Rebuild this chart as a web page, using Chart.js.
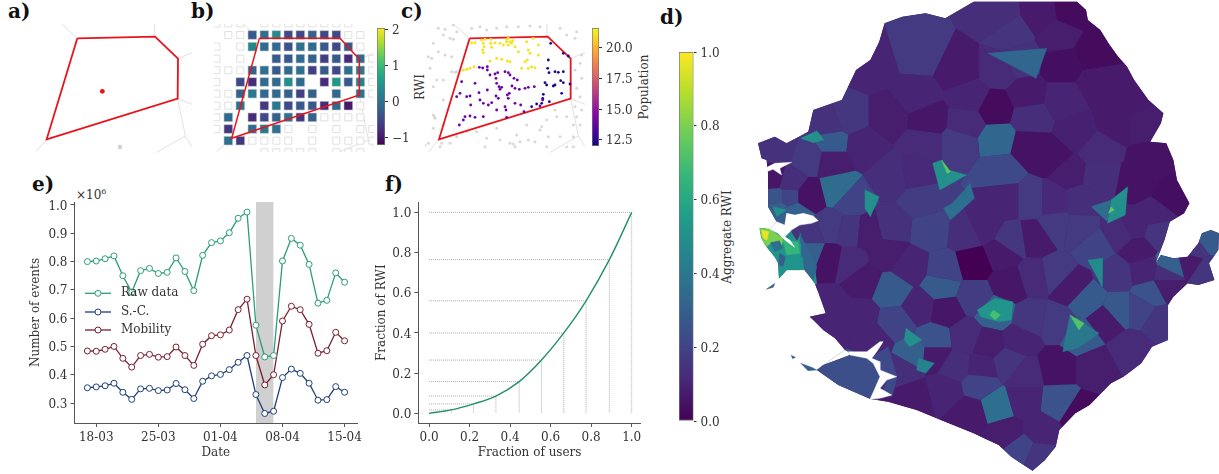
<!DOCTYPE html>
<html>
<head>
<meta charset="utf-8">
<script src="https://cdn.jsdelivr.net/npm/chart.js@4"></script>
<style>
  html, body { margin: 0; background: #fff; width: 1219px; height: 474px; overflow: hidden; }
  body { position: relative; font-family: "DejaVu Serif", serif; color: #333; }
  canvas { position: absolute; }
  .panel { position: absolute; font-weight: bold; font-size: 20px; color: #111; line-height: 1; }
  .rot { position: absolute; font-size: 12px; white-space: nowrap; transform: translate(-50%, -50%) rotate(-90deg); }
</style>
</head>
<body>
<div class="panel" style="left:8px;top:1px">a)</div>
<div class="panel" style="left:191px;top:1px">b)</div>
<div class="panel" style="left:401px;top:1px">c)</div>
<div class="panel" style="left:660px;top:7px">d)</div>
<div class="panel" style="left:32px;top:174px">e)</div>
<div class="panel" style="left:385px;top:174px">f)</div>
<div class="rot" style="left:420px;top:87px">RWI</div>
<div class="rot" style="left:644px;top:87px">Population</div>
<div class="rot" style="left:727px;top:237px">Aggregate RWI</div>
<div style="position:absolute;left:76px;top:187px;font-size:12px">×10<sup style="font-size:8px">6</sup></div>

<canvas id="panelA" width="170" height="136" style="left:30px;top:20px"></canvas>
<canvas id="panelB" width="160" height="128" style="left:214px;top:24px"></canvas>
<canvas id="barB" width="50" height="133" style="left:377px;top:20px"></canvas>
<canvas id="panelC" width="160" height="129" style="left:425px;top:24px"></canvas>
<canvas id="barC" width="50" height="134" style="left:592px;top:20px"></canvas>
<canvas id="panelD" width="559" height="474" style="left:660px;top:0"></canvas>
<canvas id="barD" width="45" height="385" style="left:679px;top:44px"></canvas>
<canvas id="panelE" width="365" height="285" style="left:0;top:175px"></canvas>
<canvas id="panelF" width="281" height="285" style="left:360px;top:175px"></canvas>

<script>
// ---- e) time series
const dayNumbers = [-1,0,1,2,3,4,5,6,7,8,9,10,11,12,13,14,15,16,17,18,19,20,21,22,23,24,25,26,27,28];
const rawData = [.80,.802,.81,.82,.75,.692,.768,.776,.758,.762,.813,.765,.697,.822,.867,.873,.902,.953,.975,.575,.463,.468,.802,.882,.858,.79,.653,.663,.76,.727];
const mobility = [.484,.483,.49,.5,.458,.427,.468,.472,.462,.464,.498,.468,.433,.508,.538,.541,.558,.63,.667,.468,.364,.40,.59,.642,.63,.578,.476,.485,.55,.52];
const sc = [.354,.357,.361,.37,.338,.313,.35,.352,.344,.346,.369,.347,.316,.377,.396,.401,.418,.444,.468,.33,.263,.271,.39,.42,.405,.37,.31,.312,.358,.338];
const dateTicks = [0,7,14,21,28];
const dateLabels = ['18-03','25-03','01-04','08-04','15-04'];
const eventTicks = [.3,.4,.5,.6,.7,.8,.9,1.0];
const shutdownDays = [18,20];

// ---- f) Lorenz curve
const usersFraction = [0,.11,.22,.33,.445,.555,.665,.775,.89,1];
const rwiFraction = [0,.017,.047,.086,.158,.265,.4,.56,.765,1];
const fractionTicks = [0,.2,.4,.6,.8,1];

// ---- a), b), c) one cell at three zoom levels
const cellA = [[232,115],[465,110],[534,176],[533,296],[140,418],[232,115]];
const wallsA = [[[232,115],[185,72]],[[465,110],[463,72]],[[534,176],[577,158]],[[533,296],[576,313]],[[533,296],[556,408],[575,440]],[[556,408],[470,457]],[[140,418],[108,455]]];
const towerA = [[307,274]];
const otherTowerA = [[360,441]];

const cellB = [[778,115],[1020,115],[1078,178],[1078,285],[695,415],[778,115]];
const wallsB = [[[778,115],[730,72]],[[1078,178],[1118,160]],[[1078,285],[1105,420],[1120,440]],[[1105,420],[1020,455]],[[695,415],[650,455]]];
const gridX = [649,685,721,757,793,829,865,901,937,973,1009,1045,1081,1117];
const gridY = [70,105,140,176,211,246,281,317,352,387,422,457];
// col, row, rwi
const tileRwi = [
  [3,1,-.3],[4,1,0],[5,1,.35],[6,1,-.5],[7,1,-.5],[8,1,-.2],[9,1,-.5],[10,1,-.5],
  [3,2,.3],[4,2,-.1],[5,2,-.1],[6,2,-.4],[7,2,0],[8,2,-.1],[9,2,-.3],[10,2,-.5],[11,2,-.3],
  [5,3,-.3],[6,3,-.3],[7,3,-.1],[8,3,-.2],[9,3,-.6],[10,3,-.3],[11,3,-.8],[12,3,-.1],
  [3,4,-.2],[4,4,0],[5,4,-.3],[6,4,-.1],[7,4,0],[8,4,-.6],[9,4,-.3],[10,4,-.5],[11,4,0],[12,4,.1],
  [2,5,-.5],[3,5,-.8],[4,5,-.1],[5,5,-.1],[6,5,.4],[7,5,-.1],[9,5,-.8],[10,5,.5],[11,5,-.3],[12,5,.2],
  [2,6,-.2],[3,6,.1],[4,6,-.1],[5,6,-.1],[6,6,-.2],[7,6,-.6],[8,6,-.2],[10,6,-.1],[12,6,0],
  [2,7,0],[4,7,-.7],[5,7,.1],[6,7,-.5],[7,7,-.3],[8,7,-.3],[9,7,-.8],[10,7,-.1],[11,7,-1],
  [1,8,-.1],[3,8,-.8],[4,8,-.5],[5,8,-.2],[6,8,0],[7,8,-.7],[8,8,-.2],
  [1,9,-.7],[3,9,-.1],[4,9,.1],[5,9,0],
  [1,10,0],[2,10,-.7]
];
const emptyTiles = [
  [0,0],[1,0],[2,0],[4,0],[5,0],[6,0],[7,0],[8,0],[9,0],[10,0],[11,0],
  [1,1],[2,1],[11,1],[12,1],[0,2],[2,2],[12,2],[0,3],[2,3],[13,3],[0,4],[1,4],[2,4],[13,4],
  [0,5],[13,5],[0,6],[1,6],[13,6],[0,7],[1,7],[12,7],[0,8],[9,8],[10,8],[11,8],[12,8],
  [0,9],[6,9],[8,9],[10,9],[12,9],[13,9],[3,10],[4,10],[5,10],[6,10],[8,10],[10,10],[11,10],[12,10],[13,10],
  [4,11],[5,11],[6,11],[7,11],[8,11],[10,11],[11,11],[12,11]
];
const barBTicks = [-1,0,1,2];
const barBLabels = ['−1','0','1','2'];

const cellC = [[209,115],[443,110],[512,176],[512,296],[117,418],[209,115]];
const wallsC = [[[209,115],[160,72]],[[443,110],[441,72]],[[512,176],[555,158]],[[512,296],[555,313]],[[512,296],[535,408],[555,440]],[[535,408],[450,457]],[[117,418],[85,457]]];
const popHigh = [[215,128],[225,128],[245,120],[250,130],[255,118],[248,150],[252,140],[272,118],[272,130],[275,142],[285,128],[300,130],[310,135],[320,118],[325,115],[330,125],[338,122],[325,135],[345,140],[355,155],[380,125],[400,115],[385,150],[390,160],[415,165],[382,180],[375,185],[385,205],[395,200],[405,203],[365,205],[330,185],[322,183],[305,178],[290,175],[270,183],[190,210],[200,208],[210,205],[222,200],[250,158],[320,125],[335,130],[415,135]];
const popMid = [[238,202],[248,204],[262,200],[262,210],[270,225],[285,222],[293,218],[315,215],[325,218],[330,225],[342,235],[352,240],[185,245],[225,250],[262,270],[288,235],[290,250],[297,260],[300,268],[305,262],[336,258],[345,265],[358,268],[375,265],[385,262],[403,260],[180,280],[170,290],[200,290],[210,288],[237,278],[288,288],[295,295],[322,285],[328,280],[325,295],[240,300],[250,310],[265,315],[275,308],[290,330],[315,320],[318,330],[345,310],[362,315],[212,315],[225,352],[250,350],[195,350],[190,360],[178,375],[210,348],[320,352],[372,335],[420,318],[428,300]];
const popLow = [[452,130],[490,160],[505,168],[445,180],[443,205],[447,218],[465,215],[490,215],[475,217],[482,242],[490,248],[510,252],[435,248],[440,255],[460,258],[465,255],[485,280],[430,283],[428,295],[425,310],[448,305],[410,312],[395,320]];
const popOutside = [[115,85],[135,88],[130,105],[160,75],[170,95],[150,115],[160,118],[100,130],[85,170],[95,175],[115,155],[135,165],[155,170],[155,215],[165,217],[170,215],[130,240],[110,240],[100,260],[90,205],[130,300],[100,345],[103,350],[105,355],[130,375],[100,385],[85,430],[75,435],[125,430],[215,85],[240,80],[260,90],[290,85],[320,80],[355,80],[390,78],[420,80],[480,85],[500,105],[530,95],[525,115],[545,165],[540,190],[525,210],[545,235],[530,265],[540,290],[525,320],[545,330],[520,375],[540,375],[530,350],[500,350],[470,350],[440,360],[420,390],[380,375],[350,405],[330,430],[340,432],[345,440],[360,425],[300,420],[290,385],[260,415],[255,440],[230,395],[200,395],[170,410],[150,430],[120,440],[445,410],[480,410],[520,410],[440,440],[500,440],[520,440],[405,425],[385,420],[425,380],[465,330]];
const barCTicks = [12.5,15,17.5,20];

// ---- d) country map
const countryOutline = [[880,5],[1170,5],[1195,30],[1200,60],[1235,90],[1258,130],[1285,170],[1310,200],[1330,240],[1370,300],[1412,340],[1405,370],[1375,425],[1420,430],[1440,480],[1450,540],[1485,610],[1470,640],[1430,665],[1415,720],[1390,790],[1405,765],[1440,775],[1480,770],[1510,730],[1520,700],[1545,690],[1568,700],[1566,750],[1540,790],[1555,840],[1510,855],[1480,850],[1440,890],[1425,915],[1425,1020],[1380,1040],[1350,1090],[1300,1130],[1265,1150],[1205,1215],[1165,1240],[1120,1290],[1110,1340],[1095,1360],[1080,1380],[1045,1412],[1020,1395],[985,1370],[950,1335],[880,1300],[800,1265],[720,1230],[640,1205],[590,1197],[500,1155],[440,1110],[458,1095],[533,1065],[528,1055],[519,1050],[491,1015],[458,990],[430,960],[420,950],[465,940],[445,880],[434,850],[406,810],[355,810],[334,835],[332,790],[322,770],[299,740],[285,715],[280,685],[308,688],[327,665],[303,620],[303,560],[303,520],[299,480],[285,475],[275,430],[322,410],[355,430],[416,395],[430,330],[510,300],[550,210],[590,180],[615,125],[630,70],[680,50],[745,40],[800,55],[880,5]];
const siteX = [730,950,1070,1150,1118,985,1010,950,840,1130,1215,590,720,640,1030,940,870,1130,1230,1330,1280,1170,1040,860,750,945,1035,1100,1360,530,470,480,570,740,840,955,1230,1380,1150,480,500,650,720,735,965,1045,1100,1180,1230,1340,1430,1390,1330,415,535,480,530,585,650,760,860,905,985,1055,1110,1175,1220,1290,1340,1400,475,530,570,640,700,650,790,800,880,960,980,1050,1110,1155,1200,1280,1360,1420,1380,1420,1285,1350,1400,1250,1180,1110,1040,940,880,800,730,660,560,480,460,600,770,770,710,680,860,920,1010,980,900,830,1115,1220,1320,1120,945,870,800,710,1170,1020,970,1070,1010,1060,550,895,1020,420,330,320,360,325,360,330,380,420,420,300,325,315,350,375,350,390,1540,1490,1430,1530,1500];
const siteY = [160,50,45,35,105,100,180,210,210,195,160,200,290,350,285,325,290,300,250,300,370,400,350,370,360,420,440,470,370,350,370,430,440,430,430,510,450,480,520,480,570,530,520,600,600,600,600,600,530,550,590,640,680,590,600,680,690,695,680,690,700,680,725,715,680,690,740,700,750,700,780,790,840,760,800,870,860,810,790,760,850,830,820,860,900,820,810,820,880,860,930,930,960,960,1010,970,960,940,890,930,920,970,950,920,1000,1020,1020,1065,1060,1110,1010,1030,1020,1090,1105,1100,1100,1100,1050,1210,1220,1240,1170,1190,1240,1200,1300,1290,1350,1370,1120,1150,1120,470,440,540,550,590,590,630,640,700,760,705,720,750,745,760,800,790,720,785,800,810,750];
const siteRwi = [.17,.13,.07,.03,.08,.15,.14,.12,.07,.04,.03,.10,.1,.08,.07,.03,.1,.1,.07,.07,.07,.09,.13,.12,.06,.33,.05,.05,.08,.16,.14,.28,.1,.12,.17,.22,.12,.05,.08,.08,.35,.13,.11,.18,.1,.17,.11,.13,.13,.05,.04,.1,.1,.05,.2,.17,.15,.08,.14,.2,.13,.1,.16,.07,.17,.17,.2,.12,.07,.15,.05,.12,.07,.08,.1,.28,.28,.2,0,.07,.06,.12,.17,.07,.28,.15,.1,.13,.25,.08,.27,.2,.15,.07,.28,.17,.16,.3,.18,.06,.1,.2,.1,.1,.1,.1,.25,.07,.3,.13,.12,.08,.1,.15,.1,.13,.05,.08,.12,.25,.36,.07,.1,.07,.03,.1,.08,.1,.2,.15,.24,.2,.12,.17,.14,.06,.13,.25,.2,.3,.3,.15,.3,.5,.5,.4,.5,.5,.45,.5,.28,.07,.3,.15,.15];
const hotCells = [
  [[790,480],[810,510],[860,525],[785,570],[765,490]],
  [[920,160],[1085,145],[1055,235]],
  [[1265,600],[1312,560],[1305,645],[1255,670]],
  [[1210,620],[1265,600],[1255,665]],
  [[820,610],[870,550],[882,595],[815,660],[795,625]],
  [[1150,945],[1195,975],[1232,1000],[1170,1045],[1130,1055]],
  [[890,930],[940,895],[990,905],[985,960],[950,965],[900,950]],
  [[575,570],[615,590],[590,650],[575,625]],
  [[1200,780],[1242,775],[1240,860]],
  [[395,415],[440,392],[460,420],[430,428]],
  [[690,985],[735,1020],[700,1040],[685,1020]],
  [[725,1075],[770,1090],[745,1120],[720,1110]],
  [[790,480],[815,515],[805,520]],
  [[1150,945],[1190,970],[1175,990]],
  [[935,930],[955,945],[940,960],[925,945]],
  [[1265,620],[1275,630],[1258,640]],
  [[318,620],[355,630],[327,650]],
  [[280,685],[308,688],[350,720],[378,742],[395,700],[392,810],[355,810],[334,835],[332,790],[322,770],[299,740],[285,715]],
  [[392,700],[440,800],[430,840],[405,810]],
  [[345,720],[388,725],[392,760],[355,765]],
  [[335,760],[352,770],[345,800],[333,795]],
  [[280,685],[308,688],[345,715],[342,735],[315,725],[299,740],[285,715]],
  [[310,728],[335,722],[345,745],[322,755]],
  [[284,690],[305,695],[300,720],[290,715]],
  [[610,1060],[640,1040],[665,1130],[652,1188],[620,1195],[636,1140],[664,1130],[617,1110],[617,1085],[594,1075]]
];
const hotRwi = [.5,.33,.5,.35,.36,.4,.52,.5,.48,.5,.5,.45,.75,.72,.7,.75,.5,.52,.33,.66,.3,.8,.36,.97,.22];
const waterBodies = [
  [[308,688],[327,665],[350,675],[355,640],[378,645],[402,640],[430,648],[444,662],[425,670],[392,675],[369,690],[350,710],[364,720],[378,742],[369,735],[350,720],[331,700]],
  [[294,505],[322,490],[369,487],[336,505],[341,525],[317,508],[299,515]],
  [[528,1055],[580,1055],[617,1025],[626,1025],[608,1055],[594,1075],[617,1085],[617,1110],[664,1130],[636,1140],[617,1165],[650,1185],[617,1195],[589,1198],[603,1165],[617,1130],[598,1090],[580,1075],[533,1065]]
];
const islands = [
  [[298,868],[322,850],[318,862]],
  [[395,1090],[425,1102],[440,1110],[415,1112]],
  [[368,1066],[380,1072],[372,1076]]
];
const barDTicks = [0,.2,.4,.6,.8,1];

// ---- colormap stops
const viridis = [[68,1,84],[72,40,120],[62,74,137],[49,104,142],[38,130,142],[31,158,137],[53,183,121],[109,205,89],[180,222,44],[253,231,37]];
const plasma = [[13,8,135],[84,2,163],[139,10,165],[185,50,137],[219,92,104],[244,136,73],[254,188,43],[240,249,33]];

function cmap(stops, t) {
  t = Math.min(1, Math.max(0, t)) * (stops.length - 1);
  const i = Math.min(stops.length - 2, Math.floor(t)), f = t - i;
  const c = stops[i].map((v, k) => Math.round(v + (stops[i + 1][k] - v) * f));
  return `rgb(${c[0]},${c[1]},${c[2]})`;
}

const xy = pts => pts.map(p => ({ x: p[0], y: p[1] }));

// fills the closed shape of a dataset from its placed points
Chart.register({
  id: 'polyFill',
  beforeDatasetDraw(chart, args) {
    const ds = chart.data.datasets[args.index];
    if (!ds.polyFill) return;
    const pts = chart.getDatasetMeta(args.index).data, ctx = chart.ctx;
    ctx.save();
    ctx.beginPath();
    pts.forEach((p, i) => (i ? ctx.lineTo(p.x, p.y) : ctx.moveTo(p.x, p.y)));
    ctx.closePath();
    ctx.fillStyle = ds.polyFill;
    ctx.fill();
    ctx.restore();
  }
});

// y tick labels sit a little high against the tick marks, push them down
Chart.register({
  id: 'nudgeTicks',
  beforeDraw(chart) {
    const s = chart.scales.y;
    if (!s || !s.options.display || s._nudged) return;
    s.getLabelItems().forEach(it => { it.options.translation[1] += 1.5; });
    s._nudged = true;
  }
});

// legend with line + marker, as in the original
const lineLegend = {
  id: 'lineLegend',
  afterDatasetsDraw(chart) {
    const ctx = chart.ctx, rows = [118.3, 137, 155];
    chart.data.datasets.filter(d => d.legendRow !== undefined).forEach(d => {
      const y = rows[d.legendRow];
      ctx.save();
      ctx.strokeStyle = d.borderColor;
      ctx.lineWidth = 1.3;
      ctx.beginPath(); ctx.moveTo(85, y); ctx.lineTo(111, y); ctx.stroke();
      ctx.beginPath(); ctx.arc(98, y, 3, 0, Math.PI * 2);
      ctx.fillStyle = '#fff'; ctx.fill();
      ctx.lineWidth = 1; ctx.stroke();
      ctx.fillStyle = '#333';
      ctx.font = '12px "DejaVu Serif"';
      ctx.textBaseline = 'middle';
      ctx.fillText(d.label, 121, y);
      ctx.restore();
    });
  }
};

Chart.defaults.font.family = '"DejaVu Serif", serif';
Chart.defaults.font.size = 12;
Chart.defaults.color = '#333';
Chart.defaults.animation = false;
Chart.defaults.responsive = false;
Chart.defaults.layout.autoPadding = false;
Chart.defaults.plugins.legend.display = false;
Chart.defaults.plugins.tooltip.enabled = false;

function line(pts, color, width, extra) {
  return Object.assign({ data: xy(pts), showLine: true, borderColor: color, borderWidth: width, pointRadius: 0, clip: false }, extra);
}
function dots(pts, color, r) {
  return { data: xy(pts), showLine: false, backgroundColor: color, borderWidth: 0, pointRadius: r, clip: false };
}

// axis box fixed by hand so the plot area lands where the reference has it
function fixX(h) {
  return s => { s.height = h; s.paddingLeft = 0; s.paddingRight = 0; };
}
function fixY(w) {
  return s => { s.width = w; s.paddingTop = 0; s.paddingBottom = 0; };
}

// chart without axes: data units map straight on to the canvas box
function plainChart(id, box, datasets) {
  return new Chart(document.getElementById(id), {
    type: 'scatter',
    data: { datasets: datasets.reverse() },
    options: {
      layout: { padding: 0 },
      scales: {
        x: { display: false, min: box[0], max: box[1] },
        y: { display: false, min: box[2], max: box[3], reverse: true }
      }
    }
  });
}

function colorBar(id, stops, min, max, ticks, label, barWidth, pad) {
  new Chart(document.getElementById(id), {
    type: 'bar',
    data: {
      labels: [''],
      datasets: [{
        data: [[min, max]],
        barPercentage: 1,
        categoryPercentage: 1,
        borderWidth: 1,
        borderColor: '#777',
        borderSkipped: false,
        backgroundColor(ctx) {
          const a = ctx.chart.chartArea;
          if (!a) return stops[0];
          const g = ctx.chart.ctx.createLinearGradient(0, a.bottom, 0, a.top);
          stops.forEach((c, i) => g.addColorStop(i / (stops.length - 1), `rgb(${c})`));
          return g;
        }
      }]
    },
    options: {
      layout: { padding: { top: pad, bottom: pad } },
      scales: {
        x: { display: false },
        y: {
          position: 'right', min, max,
          border: { display: false },
          grid: { drawOnChartArea: false, drawTicks: true, tickLength: 3, color: '#333' },
          ticks: { padding: 4, callback: label },
          afterBuildTicks: s => { s.ticks = ticks.map(v => ({ value: v })); },
          afterFit: s => { s.width = s.chart.width - barWidth; s.paddingTop = 0; s.paddingBottom = 0; }
        }
      }
    }
  });
}

// ---- a)
const gray = '#d4d4d4', red = '#e8141c';
plainChart('panelA', [90, 600, 60, 468], [
  ...wallsA.map(w => line(w, gray, .7)),
  line(cellA, red, 1.8),
  dots(otherTowerA, '#cfcfcf', 2.2),
  dots(towerA, red, 2.4)
]);

// ---- b)
const rwiMin = -1.22, rwiMax = 2.05;
plainChart('panelB', [642, 1122, 72, 456], [
  ...wallsB.map(w => line(w, gray, .7)),
  {
    data: emptyTiles.map(t => ({ x: gridX[t[0]], y: gridY[t[1]] })),
    showLine: false, pointStyle: 'rect', pointRadius: 5,
    backgroundColor: '#fff', borderColor: '#e0e0e0', borderWidth: 1, clip: true
  },
  {
    data: tileRwi.map(t => ({ x: gridX[t[0]], y: gridY[t[1]] })),
    showLine: false, pointStyle: 'rect', pointRadius: 6.2,
    backgroundColor: tileRwi.map(t => cmap(viridis, (t[2] - rwiMin) / (rwiMax - rwiMin))),
    borderColor: '#d8d8d8', borderWidth: .6, clip: false
  },
  line(cellB, red, 1.5)
]);
colorBar('barB', viridis, rwiMin, rwiMax, barBTicks, v => barBLabels[barBTicks.indexOf(v)], 8, 8);

// ---- c)
plainChart('panelC', [75, 555, 72, 459], [
  ...wallsC.map(w => line(w, gray, .7)),
  dots(popOutside, '#d8d8d8', 1.5),
  line(cellC, red, 1.8),
  dots(popLow, '#1a0a8c', 1.4),
  dots(popMid, '#6a00a8', 1.4),
  dots(popHigh, '#f7e225', 1.5)
]);
colorBar('barC', plasma, 12, 21.6, barCTicks, v => v.toFixed(1), 7, 8);

// ---- d)
// each cell is the country outline cut down to the points nearest its site
function cutCell(i) {
  let poly = countryOutline.slice(0, -1);
  const ax = siteX[i], ay = siteY[i];
  for (let j = 0; j < siteX.length && poly.length; j++) {
    if (j === i) continue;
    const nx = siteX[j] - ax, ny = siteY[j] - ay;
    const c = (siteX[j] * siteX[j] + siteY[j] * siteY[j] - ax * ax - ay * ay) / 2;
    const out = [];
    poly.forEach((p, k) => {
      const q = poly[(k + 1) % poly.length];
      const dp = nx * p[0] + ny * p[1] - c, dq = nx * q[0] + ny * q[1] - c;
      if (dp <= 0) out.push(p);
      if ((dp < 0 && dq > 0) || (dp > 0 && dq < 0)) {
        const t = dp / (dp - dq);
        out.push([p[0] + (q[0] - p[0]) * t, p[1] + (q[1] - p[1]) * t]);
      }
    });
    poly = out;
  }
  return poly;
}
function shape(pts, color, width) {
  return line(pts.concat([pts[0]]), color, width, { polyFill: color });
}
plainChart('panelD', [0, 1568, 0, 1422], [
  shape(countryOutline.slice(0, -1), cmap(viridis, .1), 0),
  ...siteX.map((_, i) => shape(cutCell(i), cmap(viridis, siteRwi[i]), 0)),
  ...hotCells.map((c, i) => shape(c, cmap(viridis, hotRwi[i]), .4)),
  ...islands.map(c => shape(c, cmap(viridis, .3), .4)),
  ...waterBodies.map(c => shape(c, '#fff', .4))
]);
colorBar('barD', viridis, 0, 1, barDTicks, v => v.toFixed(1), 14.5, 8);

// ---- e)
const raw = '#2a9d78', navy = '#1f3f7a', wine = '#7a1e2e';
function series(label, values, color, row) {
  return {
    label, legendRow: row,
    data: values.map((v, i) => ({ x: dayNumbers[i], y: v })),
    showLine: true, borderColor: color, borderWidth: 1.3,
    pointRadius: 3, pointBorderWidth: 1, pointBackgroundColor: '#fff', pointBorderColor: color, clip: false
  };
}
const axisLine = '#555';
new Chart(document.getElementById('panelE'), {
  type: 'scatter',
  data: {
    datasets: [
      series('Raw data', rawData, raw, 0),
      series('S.-C.', sc, navy, 1),
      series('Mobility', mobility, wine, 2),
      {
        data: shutdownDays.map(d => ({ x: d, y: 1.0106 })),
        showLine: true, fill: 'start', borderWidth: 0, pointRadius: 0, backgroundColor: '#d0d0d0'
      }
    ]
  },
  plugins: [lineLegend],
  options: {
    layout: { padding: { top: 27, right: 8 } },
    scales: {
      x: {
        min: -2.45, max: 29.4,
        border: { color: axisLine },
        grid: { drawOnChartArea: false, tickLength: 4, color: axisLine },
        title: { display: true, text: 'Date', padding: { top: 0, bottom: 0 } },
        ticks: { padding: 4, maxRotation: 0, callback: v => dateLabels[dateTicks.indexOf(v)] },
        afterBuildTicks: s => { s.ticks = dateTicks.map(v => ({ value: v })); },
        afterFit: fixX(37)
      },
      y: {
        min: .2294, max: 1.0106,
        border: { color: axisLine },
        grid: { drawOnChartArea: false, tickLength: 4, color: axisLine },
        title: { display: true, text: 'Number of events', padding: { top: 29, bottom: 0 } },
        ticks: { padding: 3, callback: v => v.toFixed(1) },
        afterBuildTicks: s => { s.ticks = eventTicks.map(v => ({ value: v })); },
        afterFit: fixY(74.5)
      }
    }
  }
});

// ---- f)
const guides = [];
usersFraction.slice(1).forEach((u, i) => {
  const r = rwiFraction[i + 1];
  guides.push(line([[0, r], [u, r], [u, 0]], '#9a9a9a', .8, { borderDash: [1, 1] }));
});
new Chart(document.getElementById('panelF'), {
  type: 'scatter',
  data: {
    datasets: [
      {
        data: usersFraction.map((u, i) => ({ x: u, y: rwiFraction[i] })),
        showLine: true, borderColor: '#1f8f6d', borderWidth: 1.4, pointRadius: 0,
        tension: .35, clip: false
      },
      ...guides
    ]
  },
  options: {
    layout: { padding: { top: 27.3 } },
    scales: {
      x: {
        min: -.053, max: 1.046,
        border: { color: axisLine },
        grid: { drawOnChartArea: false, tickLength: 4, color: axisLine },
        title: { display: true, text: 'Fraction of users', padding: { top: 0, bottom: 0 } },
        ticks: { padding: 4, maxRotation: 0, callback: v => v.toFixed(1) },
        afterBuildTicks: s => { s.ticks = fractionTicks.map(v => ({ value: v })); },
        afterFit: fixX(37)
      },
      y: {
        min: -.048, max: 1.05,
        border: { color: axisLine },
        grid: { drawOnChartArea: false, tickLength: 4, color: axisLine },
        title: { display: true, text: 'Fraction of RWI', padding: { top: 14.5, bottom: 0 } },
        ticks: { padding: 3, callback: v => v.toFixed(1) },
        afterBuildTicks: s => { s.ticks = fractionTicks.map(v => ({ value: v })); },
        afterFit: fixY(58.3)
      }
    }
  }
});
</script>
</body>
</html>
